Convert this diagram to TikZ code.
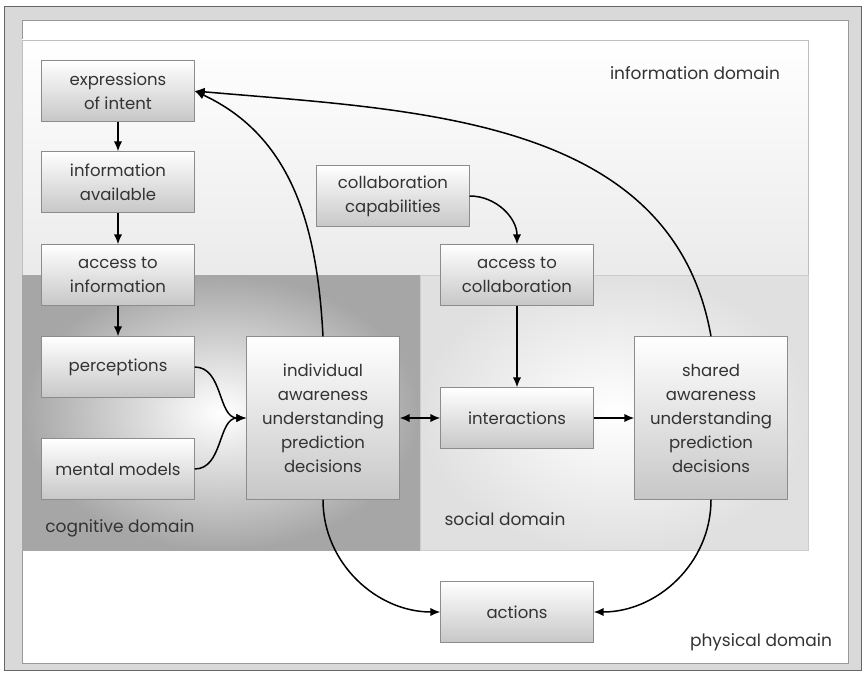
\documentclass[tikz,border=0pt]{standalone}
\usepackage{fontspec}
\setmainfont{Poppins}
\usetikzlibrary{positioning,arrows,arrows.meta}

\begin{document}
\begin{tikzpicture}[x=1pt,y=1pt,
    box/.style={draw=black!45, top color=white, bottom color=black!22,
        minimum width=153pt, minimum height=61pt, align=center, inner sep=2pt,
        text=black!80, font=\fontsize{16.5}{24}\selectfont},
    tallbox/.style={box, minimum height=163pt},
    domlabel/.style={text=black!80, font=\fontsize{17}{20}\selectfont},
    >={Latex[length=10pt,width=8.5pt]},
    flow/.style={->, line width=1.5pt}]
    \useasboundingbox (0,0) rectangle (865,-674);

    %% frame and domains
    \draw[black!60, fill=black!15] (4,-6) rectangle (861,-670);
    \draw[black!40, fill=white] (22,-20) rectangle (848,-663);
    \draw[black!25, top color=white, bottom color=black!8] (22,-40) rectangle (808,-275);
    \fill[inner color=white, outer color=black!35] (22,-275) rectangle (420,-550);
    \draw[black!20, inner color=white, outer color=black!12] (420,-275) rectangle (808,-550);

    \node[domlabel] (infodom) at (695,-73) {information domain};
    \node[domlabel] (cogdom) at (120,-528) {cognitive domain};
    \node[domlabel] (socdom) at (505,-519) {social domain};
    \node[domlabel] (physdom) at (761,-642) {physical domain};

    %% boxes
    \node[box] (intent) at (118,-91) {expressions\\of intent};
    \node[box] (avail) at (118,-182) {information\\available};
    \node[box] (access) at (118,-275) {access to\\information};
    \node[box] (percep) at (118,-367) {perceptions};
    \node[box] (models) at (118,-469) {mental models};
    \node[tallbox] (indiv) at (323,-418) {individual\\awareness\\understanding\\prediction\\decisions};
    \node[box] (collab) at (393,-196) {collaboration\\capabilities};
    \node[box] (collacc) at (517,-275) {access to\\collaboration};
    \node[box] (inter) at (517,-418) {interactions};
    \node[tallbox] (shared) at (711,-418) {shared\\awareness\\understanding\\prediction\\decisions};
    \node[box] (actions) at (517,-612) {actions};

    %% connectors
    \draw[flow] (intent) -- (avail);
    \draw[flow] (avail) -- (access);
    \draw[flow] (access) -- (percep);
    \draw[flow] (percep.east) to[out=0,in=180] (indiv.west);
    \draw[flow] (models.east) to[out=0,in=180] (indiv.west);
    \draw[flow] (indiv.north) to[out=93,in=-25] (intent.east);
    \draw[flow] (shared.north) to[out=100,in=-5] (intent.east);
    \draw[flow] (collab.east) to[out=0,in=90] (collacc.north);
    \draw[flow] (collacc) -- (inter);
    \draw[flow,<->] (indiv) -- (inter);
    \draw[flow] (inter) -- (shared);
    \draw[flow] (indiv.south) to[out=-90,in=180] (actions.west);
    \draw[flow] (shared.south) to[out=-90,in=0] (actions.east);
\end{tikzpicture}
\end{document}
